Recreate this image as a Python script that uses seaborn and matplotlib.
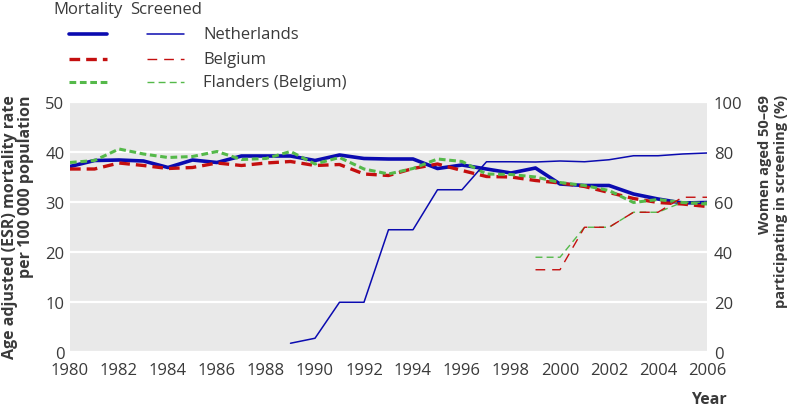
"""Breast cancer mortality vs screening participation (NL / Belgium / Flanders)."""

import matplotlib

matplotlib.use("Agg")

import matplotlib.pyplot as plt
import pandas as pd
import seaborn as sns
from matplotlib.lines import Line2D

# --- data ---
years = list(range(1980, 2007))
nl_mortality = [37.1, 38.3, 38.4, 38.2, 36.9, 38.4, 37.9, 39.2, 39.2, 39.2,
                38.3, 39.4, 38.7, 38.6, 38.6, 36.7, 37.4, 36.6, 35.8, 36.8,
                33.6, 33.3, 33.3, 31.6, 30.6, 29.8, 29.9]
be_mortality = [36.6, 36.6, 37.8, 37.3, 36.7, 36.9, 37.8, 37.3, 37.8, 38.1,
                37.3, 37.5, 35.6, 35.3, 36.7, 37.6, 36.3, 35.1, 35.0, 34.3,
                33.8, 33.1, 31.9, 30.7, 29.9, 29.6, 29.1]
fl_mortality = [37.9, 38.3, 40.6, 39.6, 38.9, 39.1, 40.1, 38.5, 38.7, 40.1,
                37.6, 38.9, 36.6, 35.6, 36.7, 38.6, 38.1, 35.6, 35.5, 35.0,
                33.9, 33.3, 32.3, 29.9, 30.5, 29.9, 29.6]

nl_screen_years = list(range(1989, 2007))
nl_screened = [3.5, 5.5, 19.9, 19.9, 48.9, 48.9, 64.9, 64.9, 76.1, 76.1,
               76.0, 76.4, 76.1, 76.9, 78.5, 78.5, 79.2, 79.6]
be_screen_years = list(range(1999, 2007))
be_screened = [32.9, 32.9, 49.9, 49.9, 55.9, 55.9, 61.9, 61.9]
fl_screened = [37.9, 37.9, 49.9, 49.9, 55.9, 55.9, 59.9, 59.9]

BLUE = "#0b0bb0"
RED = "#c40f0f"
GREEN = "#55b94a"
TEXT = "#3a3a3a"

sns.set_theme(style="darkgrid")
plt.rcParams["font.family"] = ["Open Sans", "DejaVu Sans"]
plt.rcParams["axes.facecolor"] = "#e9e9e9"

fig = plt.figure(figsize=(7.92, 4.10), dpi=100)
ax = fig.add_axes([70 / 792, 57 / 410, 637 / 792, 250 / 410])
ax2 = ax.twinx()

mort = pd.DataFrame({"year": years, "nl": nl_mortality, "be": be_mortality, "fl": fl_mortality})
sns.lineplot(data=mort, x="year", y="nl", ax=ax, color=BLUE, lw=2.6)
sns.lineplot(data=mort, x="year", y="be", ax=ax, color=RED, lw=2.4,
             linestyle=(0, (3.2, 1.8)))
sns.lineplot(data=mort, x="year", y="fl", ax=ax, color=GREEN, lw=2.2,
             linestyle=(0, (2.2, 1.2)))

nl_scr = pd.DataFrame({"year": nl_screen_years, "v": nl_screened})
be_scr = pd.DataFrame({"year": be_screen_years, "be": be_screened, "fl": fl_screened})
sns.lineplot(data=nl_scr, x="year", y="v", ax=ax2, color=BLUE, lw=1.1)
sns.lineplot(data=be_scr, x="year", y="fl", ax=ax2, color=GREEN, lw=1.0,
             linestyle=(0, (5, 3)))
sns.lineplot(data=be_scr, x="year", y="be", ax=ax2, color=RED, lw=1.0,
             linestyle=(0, (7, 5)))

# axes styling
ax.set_xlim(1980, 2006)
ax.set_ylim(0, 50)
ax2.set_ylim(0, 100)
ax.set_xticks(range(1980, 2007, 2))
ax.set_xticks(years, minor=True)
ax.set_yticks(range(0, 51, 10))
ax2.set_yticks(range(0, 101, 20))
ax.grid(axis="x", visible=False)
ax.grid(axis="y", color="white", lw=1.6)
ax2.grid(False)
for a in (ax, ax2):
    for s in a.spines.values():
        s.set_visible(False)
    a.set_xlabel("")
    a.set_ylabel("")
ax.tick_params(axis="x", which="both", direction="in", length=4, width=1,
               color="white", labelsize=12, labelcolor=TEXT, pad=7)
ax.tick_params(axis="y", length=0, labelsize=12, labelcolor=TEXT, pad=4)
ax2.tick_params(axis="y", length=0, labelsize=12, labelcolor=TEXT, pad=5)

# axis titles (lines aligned at their top end, as in the reference)
fig.text(18.5 / 792, 1 - 95 / 410,
         "Age adjusted (ESR) mortality rate\nper 100 000 population",
         rotation=90, ha="center", va="top", multialignment="right",
         fontsize=11.5, fontweight="bold", color=TEXT, linespacing=1.0)
fig.text(773 / 792, 1 - 95 / 410,
         "Women aged 50\u201369\nparticipating in screening (%)",
         rotation=90, ha="center", va="top", multialignment="right",
         fontsize=10.5, fontweight="bold", color=TEXT, linespacing=1.1)
fig.text(709 / 792, 1 - 400 / 410, "Year", ha="center", va="center",
         fontsize=11.5, fontweight="bold", color=TEXT)


# legend, built by hand in figure pixels
def fx(px):
    return px / 792


def fy(py):
    return 1 - py / 410


fig.text(fx(88), fy(10), "Mortality", ha="center", va="center", fontsize=12, color=TEXT)
fig.text(fx(166), fy(10), "Screened", ha="center", va="center", fontsize=12, color=TEXT)
rows = [
    ("Netherlands", BLUE, (2.6, "-"), (1.1, "-"), 35),
    ("Belgium", RED, (2.4, (0, (3.2, 1.8))), (1.0, (0, (7, 5))), 60),
    ("Flanders (Belgium)", GREEN, (2.2, (0, (2.2, 1.2))), (1.0, (0, (5, 3))), 83),
]
for label, col, thick, thin, py in rows:
    fig.add_artist(Line2D([fx(69), fx(107)], [fy(py), fy(py)], color=col,
                          lw=thick[0], linestyle=thick[1]))
    fig.add_artist(Line2D([fx(147), fx(184)], [fy(py), fy(py)], color=col,
                          lw=thin[0], linestyle=thin[1]))
    fig.text(fx(203), fy(py), label, ha="left", va="center", fontsize=12, color=TEXT)

fig.savefig("out.png", dpi=100)
